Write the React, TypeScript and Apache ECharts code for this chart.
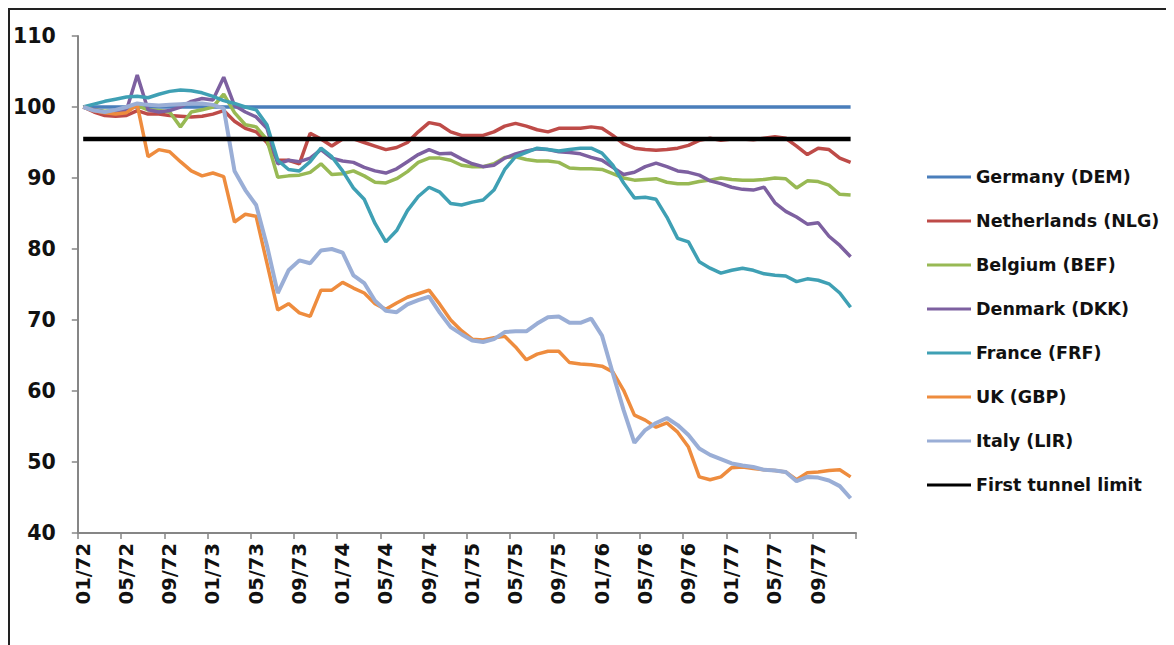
import React, { useEffect, useRef } from "react";
import * as echarts from "echarts";

const years = ["72", "73", "74", "75", "76", "77"];
const monthCodes = ["01", "02", "03", "04", "05", "06", "07", "08", "09", "10", "11", "12"];
const categories: string[] = [];
years.forEach((y) => monthCodes.forEach((m) => categories.push(m + "/" + y)));

const germany = [
  100, 100, 100, 100, 100, 100, 100, 100, 100, 100, 100, 100,
  100, 100, 100, 100, 100, 100, 100, 100, 100, 100, 100, 100,
  100, 100, 100, 100, 100, 100, 100, 100, 100, 100, 100, 100,
  100, 100, 100, 100, 100, 100, 100, 100, 100, 100, 100, 100,
  100, 100, 100, 100, 100, 100, 100, 100, 100, 100, 100, 100,
  100, 100, 100, 100, 100, 100, 100, 100, 100, 100, 100, 100,
];
const netherlands = [
  100, 99.3, 98.8, 98.7, 98.8, 99.5, 99, 99, 98.8, 98.7, 98.6, 98.7,
  99, 99.5, 98, 97, 96.5, 95, 92.5, 92.5, 92, 96.3, 95.5, 94.5,
  95.5, 95.5, 95, 94.5, 94, 94.3, 95, 96.5, 97.8, 97.5, 96.5, 96,
  96, 96, 96.5, 97.3, 97.7, 97.3, 96.8, 96.5, 97, 97, 97, 97.2,
  97, 96, 94.8, 94.2, 94, 93.9, 94, 94.2, 94.6, 95.3, 95.6, 95.3,
  95.5, 95.5, 95.4, 95.6, 95.8, 95.6, 94.5, 93.3, 94.2, 94, 92.8, 92.2,
];
const belgium = [
  100, 99.6, 99.4, 99.5, 99.7, 100.2, 99.6, 99.5, 99.3, 97.2, 99.3, 99.6,
  100, 101.8, 99.2, 97.5, 97.2, 95.4, 90.1, 90.3, 90.4, 90.8, 92, 90.5,
  90.6, 91, 90.3, 89.4, 89.3, 89.9, 90.9, 92.2, 92.8, 92.8, 92.5, 91.8,
  91.6, 91.6, 92, 92.9, 93, 92.6, 92.4, 92.4, 92.2, 91.4, 91.3, 91.3,
  91.2, 90.6, 90, 89.7, 89.8, 89.9, 89.4, 89.2, 89.2, 89.5, 89.7, 90,
  89.8, 89.7, 89.7, 89.8, 90, 89.9, 88.6, 89.6, 89.5, 89, 87.7, 87.6,
];
const denmark = [
  100, 99.6, 99.3, 99.2, 99.5, 104.5, 99.6, 99.3, 99.5, 100, 100.8, 101.2,
  101, 104.2, 100.2, 99.3, 98.6, 97, 92, 92.5, 92.3, 92.8, 94, 92.8,
  92.4, 92.2, 91.5, 91, 90.7, 91.3, 92.3, 93.3, 94, 93.4, 93.5, 92.7,
  92, 91.6, 91.8, 92.8, 93.4, 93.8, 94.1, 94, 93.7, 93.6, 93.4, 92.9,
  92.5, 91.5, 90.5, 90.8, 91.6, 92.1, 91.6, 91, 90.8, 90.4, 89.6, 89.2,
  88.7, 88.4, 88.3, 88.7, 86.5, 85.3, 84.5, 83.5, 83.7, 81.8, 80.5, 78.9,
];
const france = [
  100, 100.4, 100.8, 101.1, 101.4, 101.5, 101.3, 101.8, 102.2, 102.4, 102.3, 102,
  101.5, 100.9, 100.5, 100, 99.6, 97.5, 92.5, 91.2, 91, 92.3, 94.2, 93,
  91, 88.6, 87, 83.6, 81, 82.6, 85.4, 87.4, 88.7, 88, 86.4, 86.2,
  86.6, 86.9, 88.3, 91.2, 93, 93.6, 94.2, 94, 93.8, 94, 94.2, 94.2,
  93.5, 91.8, 89.3, 87.2, 87.3, 87, 84.5, 81.5, 81, 78.2, 77.3, 76.6,
  77, 77.3, 77, 76.5, 76.3, 76.2, 75.4, 75.8, 75.6, 75.1, 73.8, 71.8,
];
const uk = [
  100, 99.5, 99.2, 99, 99.2, 100.3, 93, 94, 93.7, 92.3, 91, 90.3,
  90.7, 90.2, 83.8, 84.9, 84.6, 78, 71.4, 72.3, 71, 70.5, 74.2, 74.2,
  75.3, 74.5, 73.8, 72.3, 71.5, 72.4, 73.2, 73.7, 74.2, 72.2, 70, 68.5,
  67.3, 67.2, 67.5, 67.7, 66.2, 64.4, 65.2, 65.6, 65.6, 64, 63.8, 63.7,
  63.5, 62.7, 60.1, 56.6, 55.9, 54.9, 55.5, 54.2, 52.1, 47.9, 47.5, 47.9,
  49.2, 49.3, 49.1, 48.9, 48.8, 48.6, 47.5, 48.5, 48.6, 48.8, 48.9, 47.9,
];
const italy = [
  100, 99.5, 99.3, 99.6, 100, 100.5, 100.3, 100.2, 100.3, 100.4, 100.5, 100.5,
  100.3, 99.8, 91, 88.3, 86.2, 80.5, 73.8, 77, 78.4, 78, 79.8, 80,
  79.5, 76.3, 75.2, 72.7, 71.3, 71.1, 72.2, 72.8, 73.3, 71, 69, 68,
  67.1, 66.9, 67.3, 68.3, 68.4, 68.4, 69.5, 70.4, 70.5, 69.6, 69.6, 70.2,
  67.8, 62.5, 57.3, 52.7, 54.5, 55.5, 56.2, 55.2, 53.8, 51.9, 51, 50.4,
  49.8, 49.5, 49.3, 48.9, 48.8, 48.6, 47.3, 47.9, 47.8, 47.4, 46.6, 44.9,
];
const tunnelLimit = [
  95.5, 95.5, 95.5, 95.5, 95.5, 95.5, 95.5, 95.5, 95.5, 95.5, 95.5, 95.5,
  95.5, 95.5, 95.5, 95.5, 95.5, 95.5, 95.5, 95.5, 95.5, 95.5, 95.5, 95.5,
  95.5, 95.5, 95.5, 95.5, 95.5, 95.5, 95.5, 95.5, 95.5, 95.5, 95.5, 95.5,
  95.5, 95.5, 95.5, 95.5, 95.5, 95.5, 95.5, 95.5, 95.5, 95.5, 95.5, 95.5,
  95.5, 95.5, 95.5, 95.5, 95.5, 95.5, 95.5, 95.5, 95.5, 95.5, 95.5, 95.5,
  95.5, 95.5, 95.5, 95.5, 95.5, 95.5, 95.5, 95.5, 95.5, 95.5, 95.5, 95.5,
];

const seriesNames = [
  "Germany (DEM)",
  "Netherlands (NLG)",
  "Belgium (BEF)",
  "Denmark (DKK)",
  "France (FRF)",
  "UK (GBP)",
  "Italy (LIR)",
  "First tunnel limit",
];
const seriesData = [germany, netherlands, belgium, denmark, france, uk, italy, tunnelLimit];
const seriesColors = ["#4A7EBB", "#BE4B48", "#98B954", "#7D60A0", "#3FA0B4", "#EE8C3E", "#9AAED6", "#000000"];
const seriesWidths = [3.5, 3.5, 3.5, 3.5, 3.5, 3.5, 4, 4.5];

const FONT = "DejaVu Sans";

export default function App() {
  const ref = useRef<HTMLDivElement>(null);
  useEffect(() => {
    if (!ref.current) return;
    const chart = echarts.init(ref.current, undefined, { renderer: "svg" });
    chart.setOption({
      animation: false,
      backgroundColor: "#ffffff",
      grid: { left: 66, top: 26, right: 318, bottom: 112, containLabel: false },
      legend: {
        orient: "vertical",
        left: 912,
        top: 152,
        icon: "rect",
        itemWidth: 44,
        itemHeight: 3,
        itemGap: 24,
        textStyle: { fontFamily: FONT, fontWeight: "bold", fontSize: 17.5, color: "#111", lineHeight: 20 },
        data: seriesNames,
      },
      xAxis: {
        type: "category",
        data: categories,
        boundaryGap: true,
        axisLine: { lineStyle: { color: "#868686", width: 2 } },
        axisTick: { show: true, interval: 3, length: 6, lineStyle: { color: "#868686", width: 1.5 } },
        axisLabel: {
          interval: 3,
          rotate: 90,
          margin: 10,
          fontFamily: FONT,
          fontWeight: "bold",
          fontSize: 19.5,
          color: "#111",
        },
        splitLine: { show: false },
      },
      yAxis: {
        type: "value",
        min: 40,
        max: 110,
        interval: 10,
        axisLine: { show: true, lineStyle: { color: "#868686", width: 2 } },
        axisTick: { show: true, length: 6, lineStyle: { color: "#868686", width: 1.5 } },
        axisLabel: { margin: 22, fontFamily: FONT, fontWeight: "bold", fontSize: 20.5, color: "#111" },
        splitLine: { show: false },
      },
      series: seriesNames.map((name, i) => ({
        name,
        type: "line",
        data: seriesData[i],
        symbol: "none",
        smooth: false,
        itemStyle: { color: seriesColors[i] },
        lineStyle: { color: seriesColors[i], width: seriesWidths[i] },
      })),
    });
    return () => chart.dispose();
  }, []);
  return (
    <div
      style={{
        width: 1166,
        height: 637,
        boxSizing: "border-box",
        borderTop: "2px solid #222",
        borderLeft: "2px solid #222",
        background: "#fff",
      }}
    >
      <div ref={ref} style={{ width: 1164, height: 635 }} />
    </div>
  );
}
